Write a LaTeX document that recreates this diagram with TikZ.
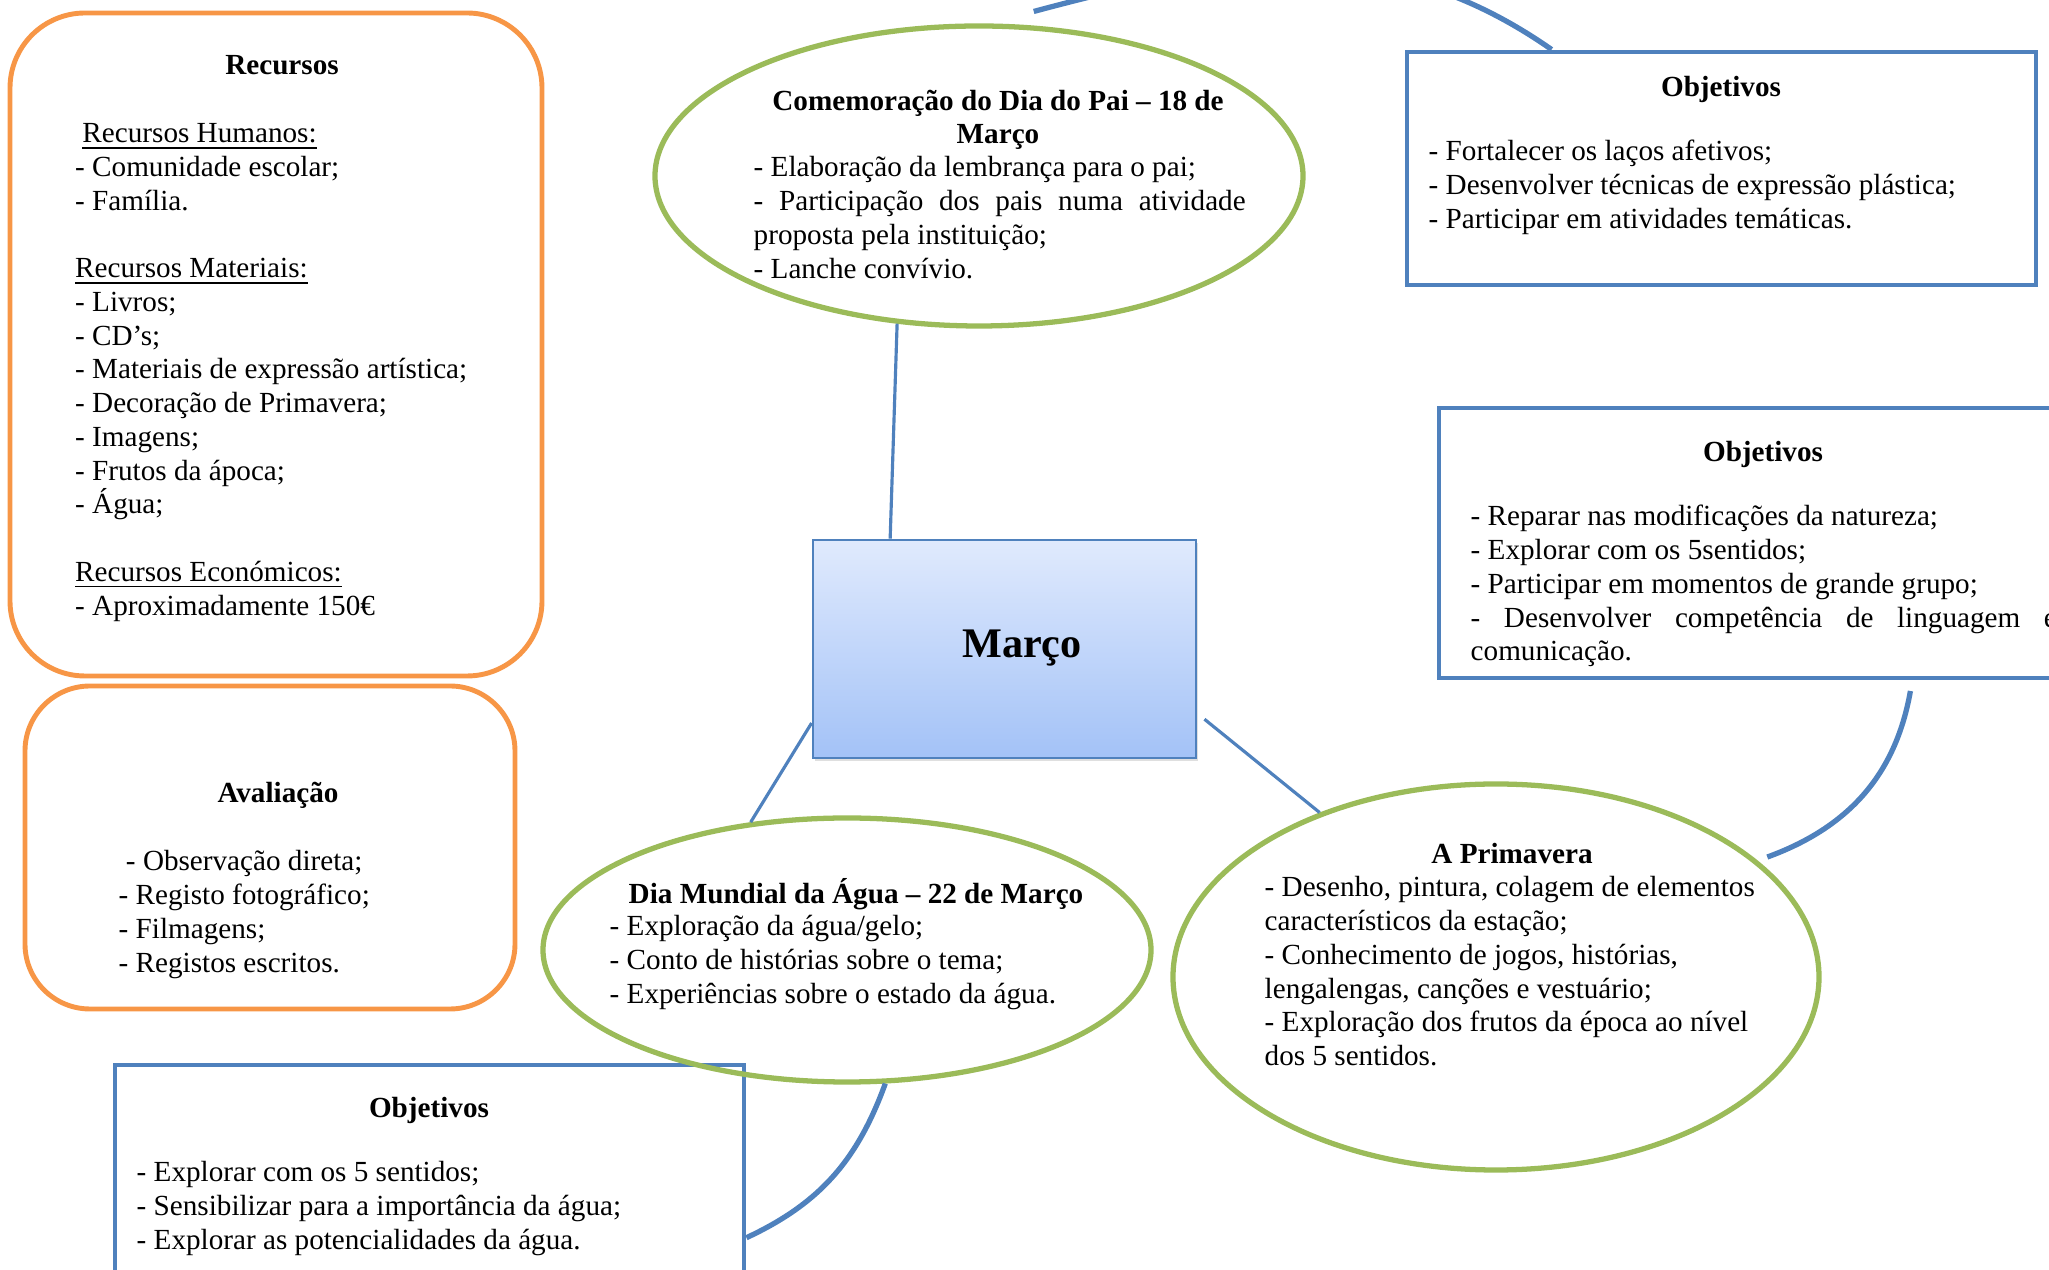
\documentclass[tikz,border=0pt]{standalone}
\usepackage{fontspec}
\setmainfont{Liberation Serif}
\usepackage{xcolor}
\usepackage{tikz}
\usetikzlibrary{shapes.geometric,shadows,positioning}
\definecolor{orangeline}{HTML}{F79646}
\definecolor{greenline}{HTML}{9BBB59}
\definecolor{blueline}{HTML}{4F81BD}
\definecolor{marcotop}{HTML}{E0EAFD}
\definecolor{marcobottom}{HTML}{A3C2F7}
\newcommand{\mapfont}{\fontsize{8.3}{9.6}\selectfont}
\tikzset{
	orangebox/.style={
			draw=orangeline,
			line width=1.4pt,
			rectangle,
		},
	objbox/.style={
			draw=blueline,
			line width=1.4pt,
			rectangle,
		},
	eventell/.style={
			ellipse,
			draw=greenline,
			line width=1.5pt,
			inner sep=0pt,
		},
	heading/.style={font=\mapfont\bfseries, inner sep=0pt, anchor=base, align=center, yshift=-0.8pt},
	bodytext/.style={inner sep=0pt, anchor=base west, text width=6cm, align=justify, yshift=-0.8pt},
	conn/.style={draw=blueline, line width=0.9pt},
	curveconn/.style={draw=blueline, line width=1.5pt}
}

\begin{document}
\begin{tikzpicture}[font=\mapfont]
			\useasboundingbox (0,0) rectangle (20.49,12.70);
			\clip (0,0) rectangle (20.49,12.70);

			\node[orangebox, rounded corners=0.75cm, minimum width=5.32cm, minimum height=6.63cm] at (2.76,9.255) (rec) {};
			\node[heading] at (2.82,11.98) (rectitle) {Recursos};
			\node[bodytext] at (0.745,11.30) (recbody) {~\underline{Recursos Humanos:}\\
				- Comunidade escolar;\\
				- Família.\\[9.6pt]
				\underline{Recursos Materiais:}\\
				- Livros;\\
				- CD’s;\\
				- Materiais de expressão artística;\\
				- Decoração de Primavera;\\
				- Imagens;\\
				- Frutos da ápoca;\\
				- Água;\\[9.6pt]
				\underline{Recursos Económicos:}\\
				- Aproximadamente 150€};

			\node[orangebox, rounded corners=0.65cm, minimum width=4.90cm, minimum height=3.23cm] at (2.70,4.225) (aval) {};
			\node[heading] at (2.78,4.70) (avaltitle) {Avaliação};
			\node[bodytext] at (1.18,4.02) (avalbody) {~- Observação direta;\\
				- Registo fotográfico;\\
				- Filmagens;\\
				- Registos escritos.};

			\node[objbox, minimum width=6.29cm, minimum height=2.45cm] at (4.295,0.825) (objagua) {};
			\node[heading] at (4.29,1.55) (objaguatitle) {Objetivos};
			\node[bodytext] at (1.36,0.91) (objaguabody) {- Explorar com os 5 sentidos;\\
				- Sensibilizar para a importância da água;\\
				- Explorar as potencialidades da água.};

			\node[eventell, minimum width=6.48cm, minimum height=3.0cm] at (9.79,10.94) (pai) {};
			\node[heading] at (9.98,11.29) (paititle) {Comemoração do Dia do Pai – 18 de\\Março};
			\node[bodytext, text width=4.92cm] at (7.53,10.96) (paibody) {- Elaboração da lembrança para o pai;\\
				- Participação dos pais numa atividade\linebreak proposta pela instituição;\\
				- Lanche convívio.};

			\node[objbox, minimum width=6.29cm, minimum height=2.33cm] at (17.215,11.015) (objpai) {};
			\node[heading] at (17.21,11.76) (objpaititle) {Objetivos};
			\node[bodytext] at (14.28,11.12) (objpaibody) {- Fortalecer os laços afetivos;\\
				- Desenvolver técnicas de expressão plástica;\\
				- Participar em atividades temáticas.};

			\node[objbox, minimum width=6.48cm, minimum height=2.70cm] at (17.63,7.27) (objprim) {};
			\node[heading] at (17.63,8.11) (objprimtitle) {Objetivos};
			\node[bodytext, text width=5.86cm] at (14.70,7.47) (objprimbody) {- Reparar nas modificações da natureza;\\
				- Explorar com os 5sentidos;\\
				- Participar em momentos de grande grupo;\\
				- Desenvolver competência de linguagem e\linebreak comunicação.};

			\node[draw=blueline, line width=0.8pt, top color=marcotop, bottom color=marcobottom,
				drop shadow={opacity=0.25, shadow xshift=0.6pt, shadow yshift=-0.8pt},
				minimum width=3.83cm, minimum height=2.18cm] at (10.045,6.21) (marco) {};
			\node[font=\fontsize{12}{14}\selectfont\bfseries, inner sep=0pt] at (10.22,6.22) (marcotxt) {Março};

			\node[eventell, minimum width=6.08cm, minimum height=2.64cm] at (8.47,3.20) (agua) {};
			\node[heading] at (8.56,3.695) (aguatitle) {Dia Mundial da Água – 22 de Março};
			\node[bodytext] at (6.09,3.37) (aguabody) {- Exploração da água/gelo;\\
				- Conto de histórias sobre o tema;\\
				- Experiências sobre o estado da água.};

			\node[eventell, minimum width=6.46cm, minimum height=3.86cm] at (14.96,2.93) (prim) {};
			\node[heading] at (15.12,4.09) (primtitle) {A Primavera};
			\node[bodytext] at (12.64,3.76) (primbody) {- Desenho, pintura, colagem de elementos\\
				característicos da estação;\\
				- Conhecimento de jogos, histórias,\\
				lengalengas, canções e vestuário;\\
				- Exploração dos frutos da época ao nível\\
				dos 5 sentidos.};

			\draw[conn] (marco.136) -- (pai.241.5);
			\draw[conn] (marco.201) -- (agua.127.6);
			\draw[conn] ([xshift=2pt]marco.-20) -- (prim.137);

			\draw[curveconn] ([yshift=4pt]pai.70) to [out=15,in=145] (objpai.145);
			\draw[curveconn] ([yshift=-3pt]objprim.-43) to [out=-100,in=20] ([xshift=4pt]prim.25);
			\draw[curveconn] (agua.-74) to [out=-110,in=25] (objagua.-9.3);
		\end{tikzpicture}
\end{document}
